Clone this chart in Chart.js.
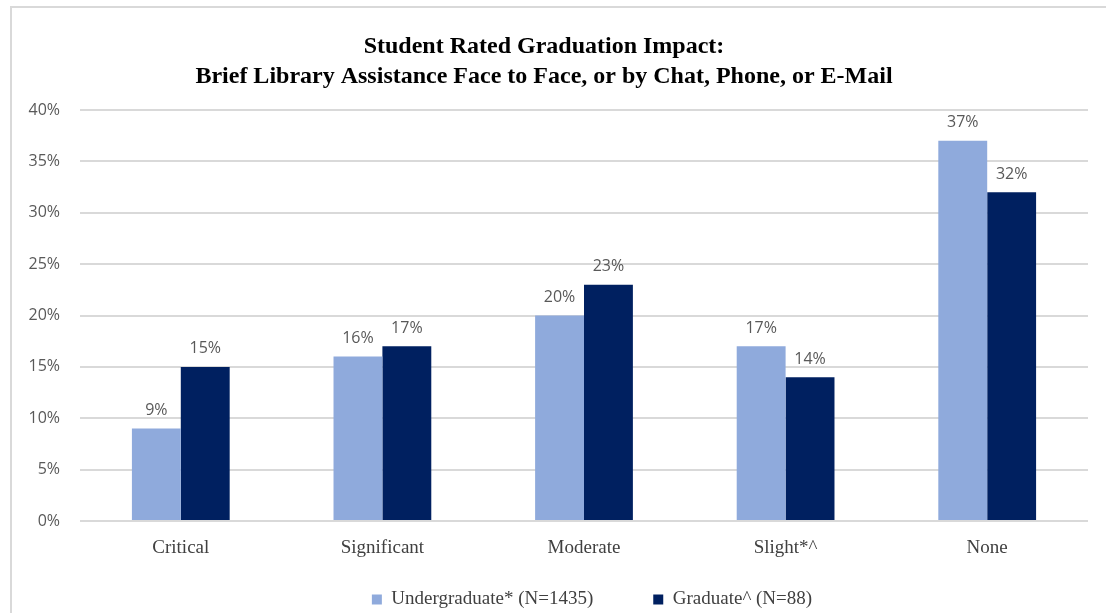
<!DOCTYPE html>
<html>
<head>
<meta charset="utf-8">
<script src="https://cdn.jsdelivr.net/npm/chart.js@4.4.0/dist/chart.umd.min.js"></script>
<style>
  html, body { margin: 0; padding: 0; background: #fff; }
  #frame { position: absolute; left: 10px; top: 6px; width: 1200px; height: 700px; border: 2px solid #d9d9d9; }
  #wrap { position: absolute; left: 0; top: 0; width: 1106px; height: 613px; }
</style>
</head>
<body>
<div id="frame"></div>
<div id="wrap"><canvas id="impact"></canvas></div>
<script>
const categories = ['Critical', 'Significant', 'Moderate', 'Slight*^', 'None'];
const undergrad = [9, 16, 20, 17, 37];
const grad = [15, 17, 23, 14, 32];
const seriesNames = ['Undergraduate* (N=1435)', 'Graduate^ (N=88)'];

const serif = '"Liberation Serif", "DejaVu Serif", serif';
const sans = '"Open Sans", "Noto Sans", sans-serif';

// value labels above each bar
const barLabels = {
    id: 'barLabels',
    afterDatasetsDraw(chart) {
        const ctx = chart.ctx;
        ctx.save();
        ctx.font = '16px ' + sans;
        ctx.fillStyle = '#595959';
        ctx.textAlign = 'center';
        ctx.textBaseline = 'bottom';
        chart.data.datasets.forEach((ds, i) => {
            chart.getDatasetMeta(i).data.forEach((bar, j) => {
                ctx.fillText(ds.data[j] + '%', bar.x, bar.y - 10);
            });
        });
        ctx.restore();
    }
};

// legend sits a bit right of centre in the original
const legendShift = {
    id: 'legendShift',
    afterLayout(chart) {
        chart.legend.left += 48;
        chart.legend.right += 48;
    }
};

new Chart(document.getElementById('impact').getContext('2d'), {
    type: 'bar',
    data: {
        labels: categories,
        datasets: [{
            label: seriesNames[0],
            data: undergrad,
            backgroundColor: '#8faadc'
        }, {
            label: seriesNames[1],
            data: grad,
            backgroundColor: '#002060'
        }]
    },
    options: {
        responsive: true,
        maintainAspectRatio: false,
        animation: false,
        categoryPercentage: 0.485,
        barPercentage: 1.0,
        layout: { padding: { left: 0, right: 18, top: 32, bottom: -6 } },
        plugins: {
            title: {
                display: true,
                text: ['Student Rated Graduation Impact:', 'Brief Library Assistance Face to Face, or by Chat, Phone, or E-Mail'],
                font: { family: serif, size: 24, weight: 'bold', lineHeight: 1.25 },
                color: '#000',
                padding: { top: 0, bottom: 18 }
            },
            legend: {
                position: 'bottom',
                labels: {
                    boxWidth: 10,
                    boxHeight: 10,
                    color: '#404040',
                    font: { family: serif, size: 19 },
                    padding: 22,
                    generateLabels(chart) {
                        const items = Chart.defaults.plugins.legend.labels.generateLabels(chart);
                        items[0].text += '\u2003\u2003';
                        return items;
                    }
                }
            },
            tooltip: { enabled: false }
        },
        scales: {
            x: {
                afterFit(scale) { scale.height = 47; },
                grid: { display: false },
                border: { display: false },
                ticks: { color: '#404040', font: { family: serif, size: 19 }, padding: 8 }
            },
            y: {
                min: 0,
                max: 40,
                afterFit(scale) { scale.width = 80; },
                grid: { color: '#d9d9d9', lineWidth: 2, drawTicks: false },
                border: { display: false },
                ticks: {
                    stepSize: 5,
                    padding: 20,
                    color: '#595959',
                    font: { family: sans, size: 16 },
                    callback: v => v + '%'
                }
            }
        }
    },
    plugins: [barLabels, legendShift]
});
</script>
</body>
</html>
